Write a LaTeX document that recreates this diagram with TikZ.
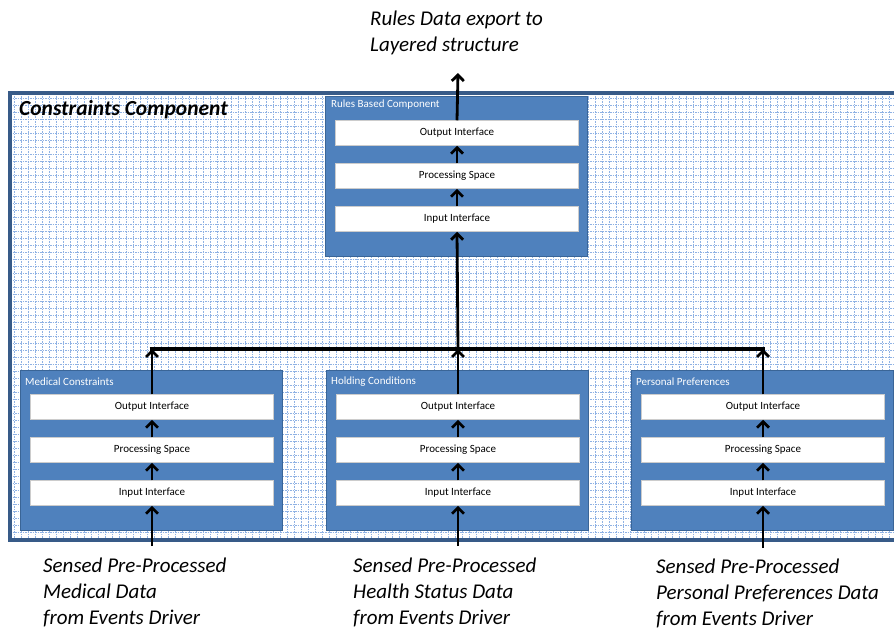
\documentclass[tikz,border=0pt]{standalone}
\usepackage{fontspec}
\setmainfont{Carlito}
\usepackage{xcolor}
\usetikzlibrary{arrows.meta, positioning}

\definecolor{boxblue}{HTML}{4F81BD}
\definecolor{boxedge}{HTML}{3A6597}
\definecolor{frameblue}{HTML}{385B88}
\definecolor{gridblue}{HTML}{8FB2E4}

\begin{document}
\begin{tikzpicture}[x=1pt, y=-1pt,
    group/.style={rectangle, draw=boxedge, fill=boxblue, line width=0.6pt,
        minimum width=262pt, minimum height=160pt, inner sep=0pt},
    layer/.style={rectangle, draw=gray!40, fill=white, line width=0.5pt,
        minimum width=243pt, minimum height=25pt, font=\fontsize{11}{13}\selectfont},
    grouptitle/.style={anchor=west, text=white, font=\fontsize{11}{13}\selectfont, inner sep=0pt},
    note/.style={align=left, font=\fontsize{21}{26}\selectfont\itshape, inner sep=0pt},
    flow/.style={-{Straight Barb[length=6pt, width=12pt, line width=2.8pt]}, line width=2.8pt},
    bus/.style={line width=4.8pt}
]
\useasboundingbox (0,0) rectangle (894,630);

% frame with dotted grid
\fill[white] (10,93) rectangle (900,540);
\begin{scope}
\clip (10,93) rectangle (900,540);
\draw[gridblue, dash pattern=on 1.5pt off 1pt, line width=0.7pt, step=7pt] (10,93) grid (900,540);
\end{scope}
\draw[frameblue, line width=3.2pt] (900,93) -- (10,93) -- (10,540) -- (900,540);
\node[anchor=west, inner sep=0pt, font=\fontsize{21.5}{24}\selectfont\bfseries\itshape] (title) at (19,110) {Constraints Component};

% rules based component
\node[group] (rules) at (456,176) {};
\node[grouptitle] (rulest) at (331,105) {Rules Based Component};
\node[layer] (rout) at (457,133) {Output Interface};
\node[layer] (rproc) at (457,176) {Processing Space};
\node[layer] (rin) at (457,219) {Input Interface};

% lower components
\foreach \name/\cx/\label in {med/151/Medical Constraints, hold/457/Holding Conditions, pers/762/Personal Preferences}{
  \node[group] (\name) at (\cx,450) {};
  \node[grouptitle] (\name t) at (\cx-126,382) {\label};
  \node[layer] (\name out) at (\cx+1,407) {Output Interface};
  \node[layer] (\name proc) at (\cx+1,450) {Processing Space};
  \node[layer] (\name in) at (\cx+1,493) {Input Interface};
  \draw[flow] (\name proc.north) -- (\name out.south);
  \draw[flow] (\name in.north) -- (\name proc.south);
}

% bus
\coordinate (busl) at (152,349);
\coordinate (busm) at (458,349);
\coordinate (busr) at (763,349);
\draw[bus] ([xshift=-2.4pt]busl) -- ([xshift=2.4pt]busr);
\draw[flow] (medout.north) -- (busl);
\draw[flow] (holdout.north) -- (busm);
\draw[flow] (persout.north) -- (busr);
\draw[flow] (busm) -- (rin.south);
\draw[flow] (rin.north) -- (rproc.south);
\draw[flow] (rproc.north) -- (rout.south);

% export
\node[note, anchor=north west] (export) at (370,11) {Rules Data export to\\Layered structure};
\coordinate (exportend) at (458,73);
\draw[flow] (rout.north) -- (exportend);

% inputs
\node[note, anchor=north west] (medsrc) at (43,558) {Sensed Pre-Processed\\Medical Data\\from Events Driver};
\node[note, anchor=north west] (holdsrc) at (353,558) {Sensed Pre-Processed\\Health Status Data\\from Events Driver};
\node[note, anchor=north west] (perssrc) at (656,559) {Sensed Pre-Processed\\Personal Preferences Data\\from Events Driver};
\coordinate (medsrcend) at (152,546);
\coordinate (holdsrcend) at (458,546);
\coordinate (perssrcend) at (763,548);
\draw[flow] (medsrcend) -- (medin.south);
\draw[flow] (holdsrcend) -- (holdin.south);
\draw[flow] (perssrcend) -- (persin.south);
\end{tikzpicture}
\end{document}
